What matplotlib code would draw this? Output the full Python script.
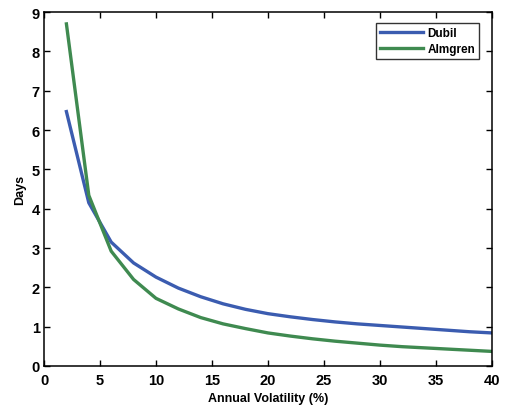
import matplotlib
matplotlib.use("Agg")
import matplotlib.pyplot as plt

# Annual volatility (%) sample points
volatility = [2, 4, 6, 8, 10, 12, 14, 16, 18, 20,
              22, 24, 26, 28, 30, 32, 34, 36, 38, 40]

# Optimal liquidation horizon in days
dubil = [6.47, 4.15, 3.15, 2.62, 2.26, 1.98, 1.76, 1.58, 1.44, 1.33,
         1.25, 1.18, 1.12, 1.07, 1.03, 0.99, 0.95, 0.91, 0.87, 0.84]
almgren = [8.70, 4.34, 2.92, 2.20, 1.72, 1.45, 1.23, 1.07, 0.95, 0.84,
           0.76, 0.69, 0.63, 0.58, 0.53, 0.49, 0.46, 0.43, 0.40, 0.37]

xticks = [0, 5, 10, 15, 20, 25, 30, 35, 40]
yticks = [0, 1, 2, 3, 4, 5, 6, 7, 8, 9]

plt.rcParams['font.family'] = ['Liberation Sans', 'DejaVu Sans']

fig = plt.figure(figsize=(5.06, 4.10), dpi=100)
ax = fig.add_axes([0.087, 0.105, 0.885, 0.863])

ax.plot(volatility, dubil, color='#3b5cb0', lw=2.4, label='Dubil')
ax.plot(volatility, almgren, color='#3f8a50', lw=2.4, label='Almgren')

ax.set_xlim(0, 40)
ax.set_ylim(0, 9)
ax.set_xticks(xticks)
ax.set_yticks(yticks)
ax.tick_params(direction='in', top=True, right=True, length=4, width=1,
               labelsize=10.5)
ax.tick_params(axis='x', pad=5)
ax.tick_params(axis='y', pad=3)
for lab in ax.get_xticklabels() + ax.get_yticklabels():
    lab.set_fontweight('bold')
for sp in ax.spines.values():
    sp.set_linewidth(1.1)

ax.set_xlabel('Annual Volatility (%)', fontsize=9, fontweight='bold', labelpad=4)
ax.set_ylabel('Days', fontsize=9, fontweight='bold', labelpad=4)

leg = ax.legend(loc='upper right', fontsize=8.5, frameon=True, fancybox=False,
                edgecolor='black', handlelength=3.6, borderpad=0.35,
                labelspacing=0.3, handletextpad=0.4,
                bbox_to_anchor=(0.985, 0.985))
leg.get_frame().set_linewidth(1.0)
for t in leg.get_texts():
    t.set_fontweight('bold')

fig.savefig('out.png', dpi=100)
